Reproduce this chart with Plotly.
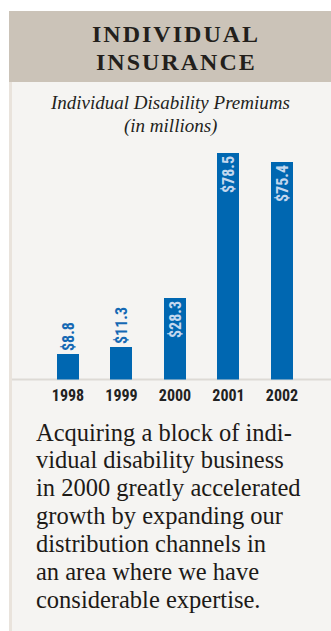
import plotly.graph_objects as go

# ---- data ----
years = ["1998", "1999", "2000", "2001", "2002"]
premiums = [8.8, 11.3, 28.3, 78.5, 75.4]
label_text = ["$" + str(v) for v in premiums]
label_positions = ["outside", "outside", "inside", "inside", "inside"]

title_lines = ["INDIVIDUAL", "INSURANCE"]
subtitle_lines = ["Individual Disability Premiums", "(in millions)"]
body_lines = [
    "Acquiring a block of indi-",
    "vidual disability business",
    "in 2000 greatly accelerated",
    "growth by expanding our",
    "distribution channels in",
    "an area where we have",
    "considerable expertise.",
]

W, H = 331, 631
BLUE = "#0067b1"
SERIF = "Times New Roman"
NARROW = "Roboto Condensed"


def px(x):
    return x / W


def py(y):
    return 1 - y / H


fig = go.Figure()
fig.add_trace(go.Bar(
    x=years, y=premiums, width=0.41,
    marker=dict(color=BLUE, line=dict(width=0)),
    text=label_text, textposition=label_positions, textangle=-90,
    insidetextanchor="end", cliponaxis=False, constraintext="none",
    insidetextfont=dict(family=NARROW, size=16, color="#c4d8ee", weight="bold"),
    outsidetextfont=dict(family=NARROW, size=16, color="#1569b4", weight="bold"),
    hoverinfo="skip",
))

shapes = [
    dict(type="rect", xref="paper", yref="paper", x0=px(9), x1=1, y0=py(82), y1=py(11),
         fillcolor="#cbc3b8", line=dict(width=0), layer="below"),
    dict(type="rect", xref="paper", yref="paper", x0=px(9), x1=1, y0=0, y1=py(82),
         fillcolor="#f5f4f2", line=dict(width=0), layer="below"),
    dict(type="rect", xref="paper", yref="paper", x0=px(9), x1=px(12), y0=0, y1=py(82),
         fillcolor="#e9e3dc", line=dict(width=0), layer="below"),
    dict(type="line", xref="paper", yref="paper", x0=px(12), x1=1, y0=py(379.5), y1=py(379.5),
         line=dict(color="#dddad5", width=2), layer="below"),
]

annotations = []
for i, t in enumerate(title_lines):
    annotations.append(dict(
        text="<b>" + "\u200a".join(t) + "</b>", xref="paper", yref="paper",
        x=px(175), y=py(34 + 28 * i), xanchor="center", yanchor="middle", showarrow=False,
        font=dict(family=SERIF, size=24, color="#231f1c")))
for i, t in enumerate(subtitle_lines):
    annotations.append(dict(
        text="<i>" + t + "</i>", xref="paper", yref="paper",
        x=px(170), y=py(102 + 24 * i), xanchor="center", yanchor="middle", showarrow=False,
        font=dict(family=SERIF, size=19, color="#231f1c")))
for i, t in enumerate(body_lines):
    annotations.append(dict(
        text=t, xref="paper", yref="paper",
        x=px(34), y=py(432 + 27.9 * i), xanchor="left", yanchor="middle", showarrow=False,
        font=dict(family=SERIF, size=24.5, color="#1d1a17")))

fig.update_layout(
    width=W, height=H,
    margin=dict(l=0, r=0, t=0, b=0, pad=0),
    paper_bgcolor="white", plot_bgcolor="rgba(0,0,0,0)",
    showlegend=False, bargap=0,
    shapes=shapes, annotations=annotations,
    xaxis=dict(type="category", range=[-0.5, 4.5], domain=[px(41.25), px(308.75)],
               showgrid=False, zeroline=False, showline=False, ticks="",
               tickfont=dict(family=NARROW, size=16, color="#222222", weight="bold"),
               ticklabelstandoff=4, fixedrange=True),
    yaxis=dict(range=[0, 239 / 2.88], domain=[py(379.5), py(140)], visible=False,
               fixedrange=True),
)

fig.write_html("out.html", config={"displayModeBar": False},
               post_script="document.body.style.margin='0';document.body.style.padding='0';")
